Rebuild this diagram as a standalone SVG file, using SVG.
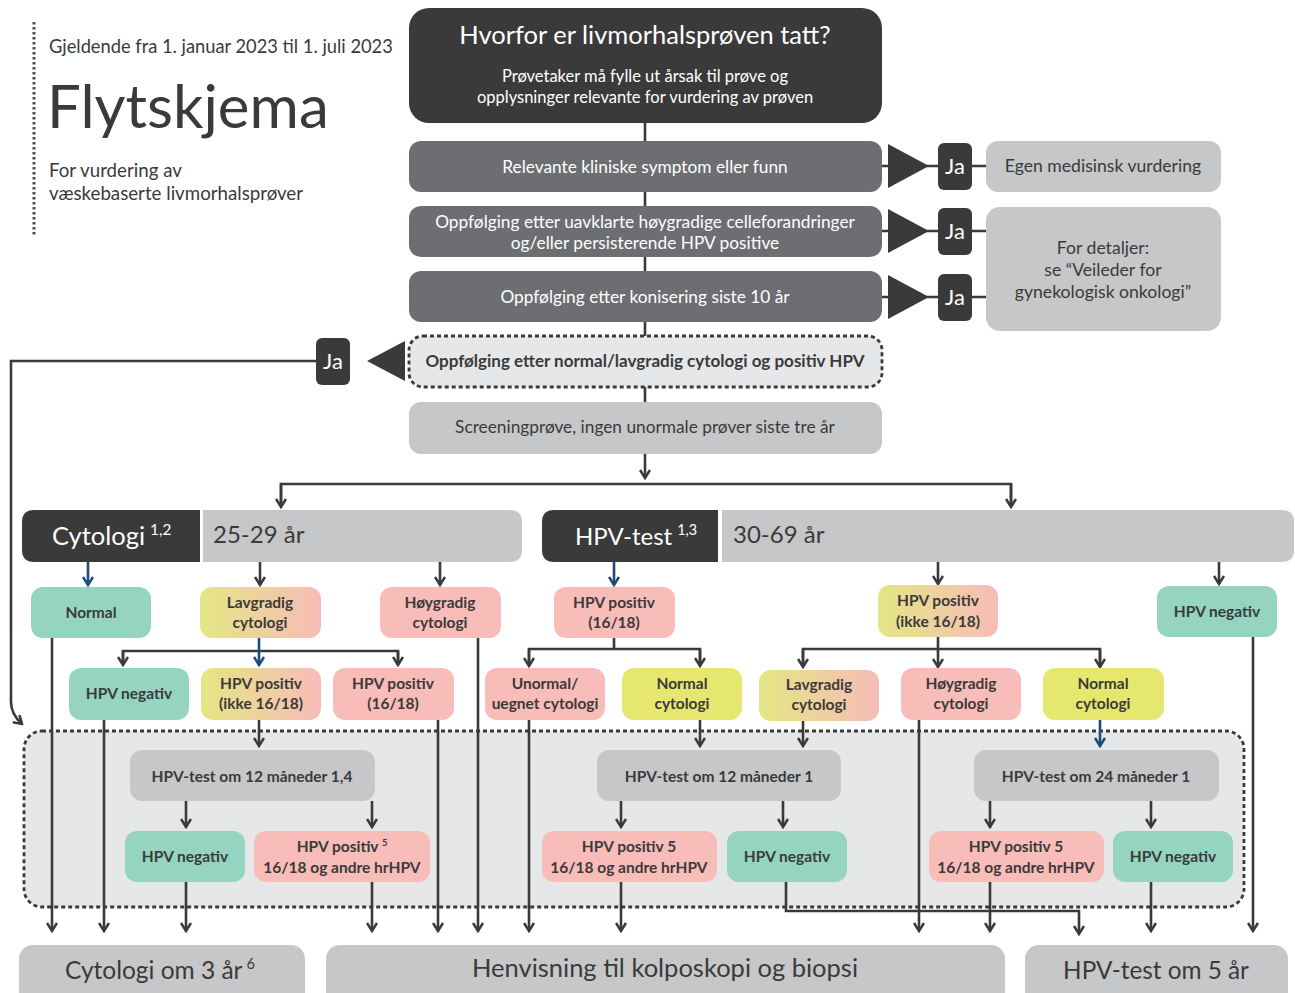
<svg xmlns="http://www.w3.org/2000/svg" width="1295" height="993" viewBox="0 0 1295 993">
<style>
text{font-family:Lato,"Liberation Sans",sans-serif;fill:#3a3a3a}
.w{fill:#fff}
.b{font-weight:700;font-size:15.5px}
.c{text-anchor:middle}
.dk{fill:#3a3a3a}
.md{fill:#6d6e71}
.lt{fill:#c6c7c9}
.teal{fill:#94d4c0}
.pink{fill:#f8bcb9}
.yel{fill:#e5e76f}
.grad{fill:url(#g)}
.ln{fill:none;stroke:#3a3a3a;stroke-width:2.6}
.la{fill:none;stroke:#3a3a3a;stroke-width:2.6;marker-end:url(#ah)}
.lb{fill:none;stroke:#1d4a78;stroke-width:2.6;marker-end:url(#ab)}
.dash{stroke:#3a3a3a;stroke-width:2.8;stroke-dasharray:4 3;fill:#e6e7e8}
.sup{font-size:60%}
.q{font-size:17.3px}
.r{font-size:17.6px}
.big{font-size:24px}
</style>
<defs>
<linearGradient id="g" x1="0" y1="0" x2="1" y2="0">
<stop offset="0" stop-color="#e4e684"/>
<stop offset="1" stop-color="#f7bcb8"/>
</linearGradient>
<marker id="ah" viewBox="0 0 12 12" refX="10" refY="6" markerWidth="12" markerHeight="12" markerUnits="userSpaceOnUse" orient="auto"><path d="M2,1 L10,6 L2,11" fill="none" stroke="#3a3a3a" stroke-width="2.5"/></marker>
<marker id="ab" viewBox="0 0 12 12" refX="10" refY="6" markerWidth="12" markerHeight="12" markerUnits="userSpaceOnUse" orient="auto"><path d="M2,1 L10,6 L2,11" fill="none" stroke="#1d4a78" stroke-width="2.5"/></marker>
</defs>

<g id="header">
<line x1="34" y1="22" x2="34" y2="237" stroke="#46505a" stroke-width="3" stroke-dasharray="2.5 2.5"/>
<text x="49" y="53" font-size="18.3">Gjeldende fra 1. januar 2023 til 1. juli 2023</text>
<text x="47" y="128" font-size="60">Flytskjema</text>
<text x="49" y="177" font-size="18.7">For vurdering av</text>
<text x="49" y="200" font-size="18.7">væskebaserte livmorhalsprøver</text>
</g>

<g id="connectors">
<line class="ln" x1="645" y1="120" x2="645" y2="405"/>
<line class="la" x1="645" y1="454" x2="645" y2="478"/>
<polyline class="ln" points="281,506 281,484 1011,484 1011,506"/>
<line class="la" x1="281" y1="484" x2="281" y2="507"/>
<line class="la" x1="1011" y1="484" x2="1011" y2="507"/>
<line class="ln" x1="882" y1="166" x2="986" y2="166"/>
<line class="ln" x1="882" y1="231" x2="986" y2="231"/>
<line class="ln" x1="882" y1="297" x2="986" y2="297"/>
<path class="la" d="M330,361 H11 V702 Q11,714 22,724"/>
<line class="lb" x1="88" y1="562" x2="88" y2="585"/>
<line class="la" x1="260" y1="562" x2="260" y2="585"/>
<line class="la" x1="440" y1="562" x2="440" y2="585"/>
<line class="lb" x1="614" y1="562" x2="614" y2="585"/>
<line class="la" x1="938" y1="562" x2="938" y2="584"/>
<line class="la" x1="1219" y1="562" x2="1219" y2="584"/>
<polyline class="ln" points="123,664 123,651 398,651 398,664"/>
<line class="la" x1="123" y1="651" x2="123" y2="665"/>
<line class="la" x1="398" y1="651" x2="398" y2="665"/>
<line class="lb" x1="259" y1="638" x2="259" y2="665"/>
<line class="ln" x1="614" y1="638" x2="614" y2="649"/>
<polyline class="ln" points="529,664 529,649 700,649 700,664"/>
<line class="la" x1="529" y1="649" x2="529" y2="666"/>
<line class="la" x1="700" y1="649" x2="700" y2="666"/>
<line class="ln" x1="938" y1="637" x2="938" y2="649"/>
<polyline class="ln" points="803,664 803,649 1100,649 1100,664"/>
<line class="la" x1="803" y1="649" x2="803" y2="667"/>
<line class="la" x1="938" y1="649" x2="938" y2="667"/>
<line class="la" x1="1100" y1="649" x2="1100" y2="667"/>
</g>

<g id="top-title"><rect x="409" y="8" width="473" height="115" rx="20" class="dk"/>
<text x="645" y="44" font-size="25.5" class="w c">Hvorfor er livmorhalsprøven tatt?</text>
<text x="645" y="82" font-size="16.5" class="w c">Prøvetaker må fylle ut årsak til prøve og</text>
<text x="645" y="103" font-size="16.5" class="w c">opplysninger relevante for vurdering av prøven</text></g>

<g id="q1"><rect x="409" y="141" width="473" height="51" rx="12" class="md"/>
<text x="645" y="173" class="q w c">Relevante kliniske symptom eller funn</text></g>
<g id="q2"><rect x="409" y="206" width="473" height="51" rx="12" class="md"/>
<text x="645" y="228" class="q w c">Oppfølging etter uavklarte høygradige celleforandringer</text>
<text x="645" y="249" class="q w c">og/eller persisterende HPV positive</text></g>
<g id="q3"><rect x="409" y="271" width="473" height="51" rx="12" class="md"/>
<text x="645" y="303" class="q w c">Oppfølging etter konisering siste 10 år</text></g>
<g id="q4"><rect x="409" y="336" width="473" height="51" rx="14" class="dash"/>
<text x="645" y="367" class="b c" style="font-size:17px">Oppfølging etter normal/lavgradig cytologi og positiv HPV</text></g>
<g id="q5"><rect x="409" y="402" width="473" height="52" rx="12" class="lt"/>
<text x="645" y="433" class="q c">Screeningprøve, ingen unormale prøver siste tre år</text></g>

<g id="ja1"><polygon points="888,144 929,166 888,188" class="dk"/><rect x="938" y="143" width="34" height="47" rx="6" class="dk"/><text x="955" y="174" font-size="22" class="w c">Ja</text></g>
<g id="ja2"><polygon points="888,209 929,231 888,253" class="dk"/><rect x="938" y="208" width="34" height="47" rx="6" class="dk"/><text x="955" y="239" font-size="22" class="w c">Ja</text></g>
<g id="ja3"><polygon points="888,275 929,297 888,319" class="dk"/><rect x="938" y="274" width="34" height="47" rx="6" class="dk"/><text x="955" y="305" font-size="22" class="w c">Ja</text></g>
<g id="ja4"><polygon points="405,341 367,361 405,381" class="dk"/><rect x="316" y="338" width="34" height="47" rx="6" class="dk"/><text x="333" y="369" font-size="22" class="w c">Ja</text></g>

<g id="r1"><rect x="986" y="141" width="235" height="51" rx="12" class="lt"/>
<text x="1103" y="172" class="r c">Egen medisinsk vurdering</text></g>
<g id="r2"><rect x="986" y="207" width="235" height="124" rx="14" class="lt"/>
<text x="1103" y="254" class="r c">For detaljer:</text>
<text x="1103" y="276" class="r c">se “Veileder for</text>
<text x="1103" y="298" class="r c">gynekologisk onkologi”</text></g>

<g id="cyt-header">
<path d="M34,510 H200 V562 H34 Q22,562 22,550 V522 Q22,510 34,510 Z" class="dk"/>
<path d="M203,510 H510 Q522,510 522,522 V550 Q522,562 510,562 H203 Z" class="lt"/>
<text x="52" y="545" font-size="25.5" class="w">Cytologi<tspan class="sup" dx="5" dy="-10">1,2</tspan></text>
<text x="213" y="543" class="big">25-29 år</text>
</g>
<g id="hpv-header">
<path d="M554,510 H718 V562 H554 Q542,562 542,550 V522 Q542,510 554,510 Z" class="dk"/>
<path d="M722,510 H1282 Q1294,510 1294,522 V550 Q1294,562 1282,562 H722 Z" class="lt"/>
<text x="575" y="545" class="big w">HPV-test<tspan class="sup" dx="5" dy="-10">1,3</tspan></text>
<text x="733" y="543" class="big">30-69 år</text>
</g>

<g id="n-normal"><rect x="31" y="587" width="120" height="51" rx="12" class="teal"/><text x="91" y="618" class="b c">Normal</text></g>
<g id="n-lavgradig"><rect x="200" y="587" width="121" height="51" rx="12" class="grad"/><text x="260" y="608" class="b c">Lavgradig</text><text x="260" y="628" class="b c">cytologi</text></g>
<g id="n-hoygradig"><rect x="380" y="587" width="121" height="51" rx="12" class="pink"/><text x="440" y="608" class="b c">Høygradig</text><text x="440" y="628" class="b c">cytologi</text></g>
<g id="n-hpvpos1618"><rect x="554" y="587" width="121" height="51" rx="12" class="pink"/><text x="614" y="608" class="b c">HPV positiv</text><text x="614" y="628" class="b c">(16/18)</text></g>
<g id="n-hpvposikke"><rect x="878" y="585" width="120" height="52" rx="12" class="grad"/><text x="938" y="606" class="b c">HPV positiv</text><text x="938" y="627" class="b c">(ikke 16/18)</text></g>
<g id="n-hpvneg"><rect x="1157" y="586" width="120" height="51" rx="12" class="teal"/><text x="1217" y="617" class="b c">HPV negativ</text></g>

<g id="dashed-region"><rect x="24" y="731" width="1220" height="176" rx="18" class="dash"/></g>

<g id="connectors2">
<line class="la" x1="52" y1="638" x2="52" y2="931"/>
<line class="la" x1="478" y1="638" x2="478" y2="931"/>
<line class="la" x1="1253" y1="637" x2="1253" y2="931"/>
<line class="la" x1="104" y1="720" x2="104" y2="931"/>
<line class="la" x1="259" y1="720" x2="259" y2="746"/>
<line class="la" x1="438" y1="720" x2="438" y2="931"/>
<line class="la" x1="529" y1="720" x2="529" y2="931"/>
<line class="la" x1="700" y1="720" x2="700" y2="746"/>
<line class="la" x1="803" y1="721" x2="803" y2="746"/>
<line class="la" x1="919" y1="720" x2="919" y2="931"/>
<line class="lb" x1="1100" y1="720" x2="1100" y2="746"/>
<line class="la" x1="186" y1="801" x2="186" y2="827"/>
<line class="la" x1="372" y1="801" x2="372" y2="827"/>
<line class="la" x1="621" y1="801" x2="621" y2="827"/>
<line class="la" x1="783" y1="801" x2="783" y2="827"/>
<line class="la" x1="990" y1="801" x2="990" y2="827"/>
<line class="la" x1="1151" y1="801" x2="1151" y2="827"/>
<line class="la" x1="186" y1="882" x2="186" y2="931"/>
<line class="la" x1="372" y1="882" x2="372" y2="931"/>
<line class="la" x1="621" y1="882" x2="621" y2="931"/>
<path class="la" d="M786,882 V911 H1079 V934"/>
<line class="la" x1="990" y1="882" x2="990" y2="931"/>
<line class="la" x1="1151" y1="882" x2="1151" y2="931"/>
</g>

<g id="n2-hpvneg"><rect x="69" y="668" width="120" height="52" rx="12" class="teal"/><text x="129" y="699" class="b c">HPV negativ</text></g>
<g id="n2-hpvposikke"><rect x="201" y="668" width="120" height="52" rx="12" class="grad"/><text x="261" y="689" class="b c">HPV positiv</text><text x="261" y="709" class="b c">(ikke 16/18)</text></g>
<g id="n2-hpvpos1618"><rect x="333" y="668" width="121" height="52" rx="12" class="pink"/><text x="393" y="689" class="b c">HPV positiv</text><text x="393" y="709" class="b c">(16/18)</text></g>
<g id="n2-unormal"><rect x="485" y="668" width="120" height="52" rx="12" class="pink"/><text x="545" y="689" class="b c">Unormal/</text><text x="545" y="709" class="b c">uegnet cytologi</text></g>
<g id="n2-normal1"><rect x="622" y="668" width="120" height="52" rx="12" class="yel"/><text x="682" y="689" class="b c">Normal</text><text x="682" y="709" class="b c">cytologi</text></g>
<g id="n2-lavgradig"><rect x="759" y="670" width="120" height="51" rx="12" class="grad"/><text x="819" y="690" class="b c">Lavgradig</text><text x="819" y="710" class="b c">cytologi</text></g>
<g id="n2-hoygradig"><rect x="901" y="668" width="120" height="52" rx="12" class="pink"/><text x="961" y="689" class="b c">Høygradig</text><text x="961" y="709" class="b c">cytologi</text></g>
<g id="n2-normal2"><rect x="1043" y="668" width="121" height="52" rx="12" class="yel"/><text x="1103" y="689" class="b c">Normal</text><text x="1103" y="709" class="b c">cytologi</text></g>

<g id="t12a"><rect x="130" y="750" width="245" height="51" rx="12" class="lt"/><text x="252" y="782" class="b c">HPV-test om 12 måneder 1,4</text></g>
<g id="t12b"><rect x="597" y="750" width="244" height="51" rx="12" class="lt"/><text x="719" y="782" class="b c">HPV-test om 12 måneder 1</text></g>
<g id="t24"><rect x="974" y="750" width="245" height="51" rx="12" class="lt"/><text x="1096" y="782" class="b c">HPV-test om 24 måneder 1</text></g>

<g id="d-neg1"><rect x="125" y="831" width="120" height="51" rx="12" class="teal"/><text x="185" y="862" class="b c">HPV negativ</text></g>
<g id="d-pos1"><rect x="254" y="831" width="176" height="51" rx="12" class="pink"/><text x="342" y="852" class="b c">HPV positiv <tspan class="sup" dy="-6">5</tspan></text><text x="342" y="873" class="b c">16/18 og andre hrHPV</text></g>
<g id="d-pos2"><rect x="542" y="831" width="175" height="51" rx="12" class="pink"/><text x="629" y="852" class="b c">HPV positiv 5</text><text x="629" y="873" class="b c">16/18 og andre hrHPV</text></g>
<g id="d-neg2"><rect x="727" y="831" width="120" height="51" rx="12" class="teal"/><text x="787" y="862" class="b c">HPV negativ</text></g>
<g id="d-pos3"><rect x="929" y="831" width="175" height="51" rx="12" class="pink"/><text x="1016" y="852" class="b c">HPV positiv 5</text><text x="1016" y="873" class="b c">16/18 og andre hrHPV</text></g>
<g id="d-neg3"><rect x="1113" y="831" width="120" height="51" rx="12" class="teal"/><text x="1173" y="862" class="b c">HPV negativ</text></g>

<g id="out-cyt"><rect x="19" y="945" width="286" height="70" rx="14" class="lt"/><text x="160" y="979" font-size="24.5" class="c">Cytologi om 3 år<tspan class="sup" dx="4" dy="-10">6</tspan></text></g>
<g id="out-henv"><rect x="326" y="945" width="679" height="70" rx="14" class="lt"/><text x="665" y="977" font-size="25.5" class="c">Henvisning til kolposkopi og biopsi</text></g>
<g id="out-hpv"><rect x="1025" y="945" width="263" height="70" rx="14" class="lt"/><text x="1156" y="979" font-size="24.3" class="c">HPV-test om 5 år</text></g>
</svg>
